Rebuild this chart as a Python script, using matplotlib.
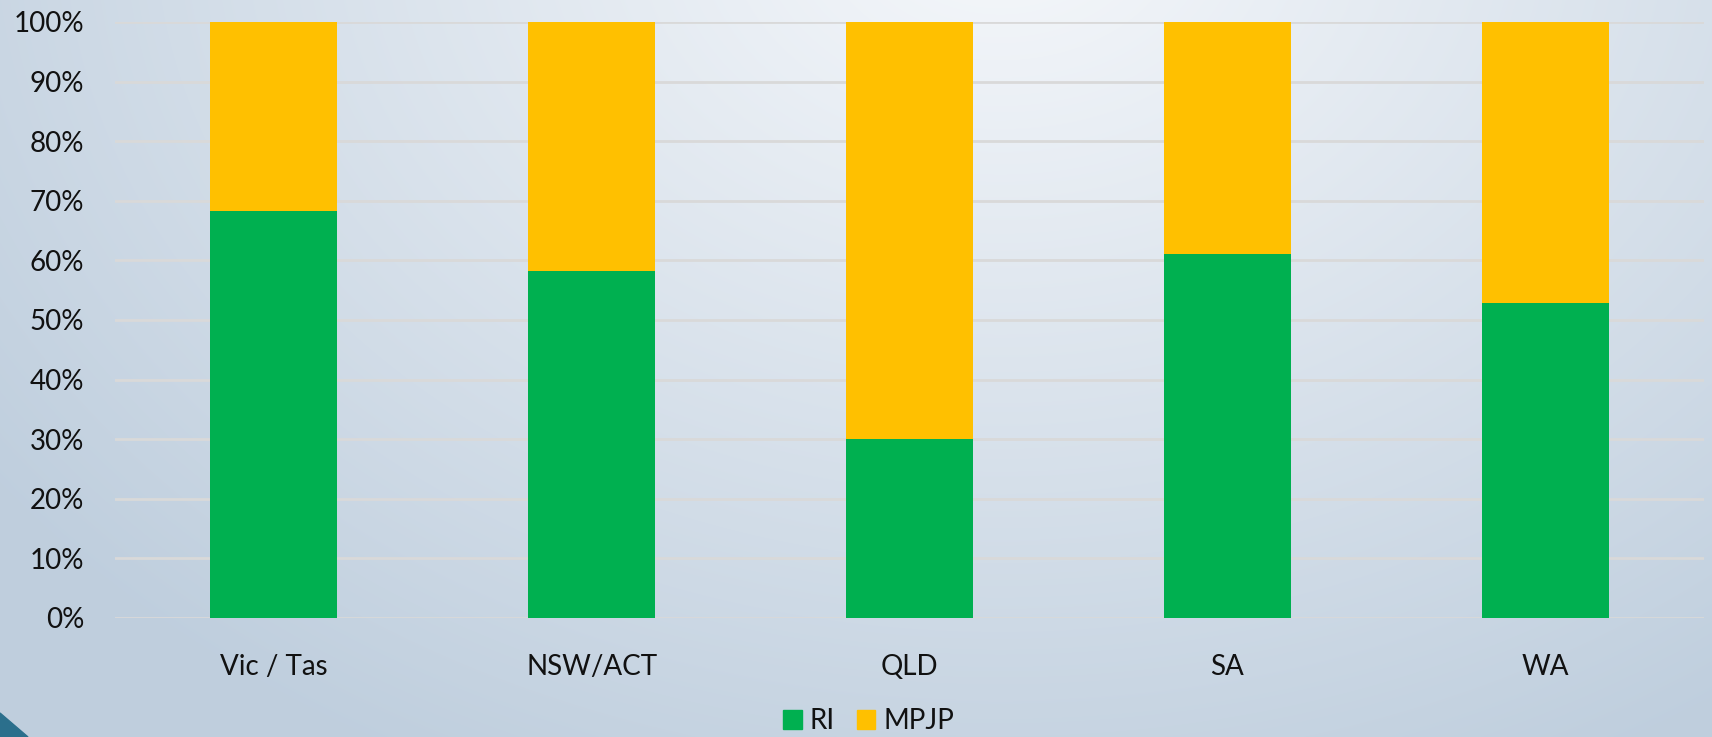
import numpy as np
import matplotlib
matplotlib.use("Agg")
import matplotlib.pyplot as plt
from matplotlib.patches import Patch, Polygon

# data (share of each region, %)
regions = ["Vic / Tas", "NSW/ACT", "QLD", "SA", "WA"]
ri = [68.3, 58.3, 30.0, 61.1, 52.9]
mpjp = [100 - v for v in ri]
y_ticks = [0, 10, 20, 30, 40, 50, 60, 70, 80, 90, 100]

GREEN = "#00B050"
YELLOW = "#FFC000"

plt.rcParams["font.family"] = ["Lato", "DejaVu Sans"]

W, H = 1712, 737
fig = plt.figure(figsize=(W / 100, H / 100), dpi=100)

# --- background gradient (light at top centre, bluish grey at edges) ---
bg = fig.add_axes([0, 0, 1, 1], zorder=-10)
yy, xx = np.mgrid[0:H, 0:W]
d = np.sqrt(((xx - 1000) / 1250.0) ** 2 + ((yy + 80) / 950.0) ** 2)
d = np.clip(d, 0, 1)
c_in = np.array([0.965, 0.973, 0.985])
c_out = np.array([0.75, 0.81, 0.87])
img = c_in[None, None, :] * (1 - d[..., None]) + c_out[None, None, :] * d[..., None]
bg.imshow(img, extent=[0, W, H, 0], aspect="auto")
bg.add_patch(Polygon([[0, 713], [28, 737], [0, 737]], closed=True, color="#2b6f8c"))
bg.set_xlim(0, W)
bg.set_ylim(H, 0)
bg.axis("off")

# --- chart ---
ax = fig.add_axes([115 / W, 1 - 618 / H, (1704 - 115) / W, (618 - 22) / H])
ax.patch.set_alpha(0)
x = np.arange(len(regions))
ax.bar(x, ri, width=0.4, color=GREEN, zorder=3)
ax.bar(x, mpjp, width=0.4, bottom=ri, color=YELLOW, zorder=3)

ax.set_xlim(-0.5, len(regions) - 0.5)
ax.set_ylim(0, 100)
ax.set_yticks(y_ticks)
ax.set_yticklabels([f"{v}%" for v in y_ticks])
ax.set_xticks(x)
ax.set_xticklabels(regions)
ax.grid(axis="y", color="#d9d9d9", linewidth=2, zorder=0)
ax.set_axisbelow(True)
for s in ax.spines.values():
    s.set_visible(False)
ax.tick_params(axis="both", length=0, labelsize=20, colors="#111111")
ax.tick_params(axis="y", pad=22)
ax.tick_params(axis="x", pad=26)

handles = [Patch(color=GREEN, label="RI"), Patch(color=YELLOW, label="MPJP")]
fig.legend(handles=handles, loc="center", bbox_to_anchor=(869 / W, 1 - 721 / H),
           ncol=2, frameon=False, fontsize=20, handlelength=0.65, handleheight=0.65,
           handletextpad=0.3, columnspacing=0.8, labelcolor="#111111",
           borderpad=0, borderaxespad=0)

fig.savefig("out.png", dpi=100)
